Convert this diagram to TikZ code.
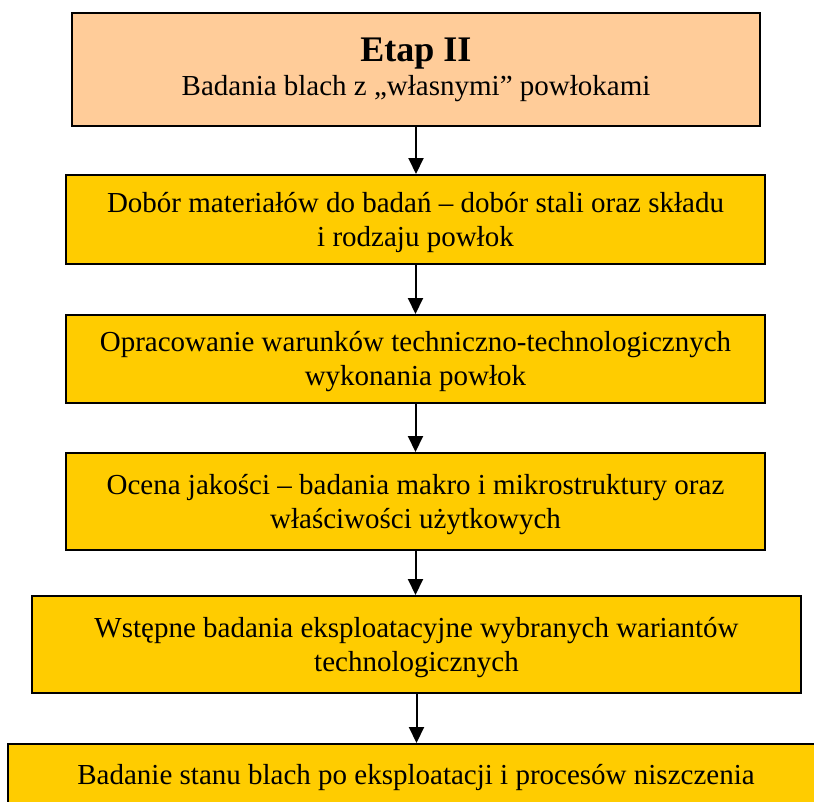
\documentclass[tikz,border=0pt]{standalone}
\usepackage{fontspec}
\setmainfont{Liberation Serif}
\usetikzlibrary{arrows.meta}
\definecolor{peach}{HTML}{FFCC99}
\definecolor{gold}{HTML}{FFCC00}
\newcommand{\downstrut}{\rule{0pt}{26pt}}
\tikzset{
  stagebox/.style={draw=black, line width=2pt, rectangle, align=center, inner sep=0pt,
    font=\fontsize{29}{34}\selectfont},
  flowarr/.style={-{Triangle[length=16pt,width=15pt]}, line width=2pt},
}
\begin{document}
\begin{tikzpicture}[x=1pt,y=-1pt]
\useasboundingbox (0,0) rectangle (814,801);
\clip (0,0) rectangle (814,801);
\fill[white] (0,0) rectangle (814,801);
\node[stagebox, fill=peach, minimum width=688pt, minimum height=113pt] (b1) at (416,69.5)
  {{\fontsize{36}{40}\selectfont\bfseries Etap II}\\Badania blach z „własnymi” powłokami};
\node[stagebox, fill=gold, minimum width=699pt, minimum height=89pt] (b2) at (415.5,219.5)
  {\downstrut Dobór materiałów do badań – dobór stali oraz składu\\i rodzaju powłok};
\node[stagebox, fill=gold, minimum width=699pt, minimum height=88pt] (b3) at (415.5,359)
  {\downstrut Opracowanie warunków techniczno-technologicznych\\wykonania powłok};
\node[stagebox, fill=gold, minimum width=699pt, minimum height=97pt] (b4) at (415.5,501.5)
  {\downstrut Ocena jakości – badania makro i mikrostruktury oraz\\właściwości użytkowych};
\node[stagebox, fill=gold, minimum width=769pt, minimum height=97pt] (b5) at (416.5,644.5)
  {\downstrut Wstępne badania eksploatacyjne wybranych wariantów\\technologicznych};
\node[stagebox, fill=gold, minimum width=830pt, minimum height=100pt] (b6) at (423,794) {};
\node[font=\fontsize{29}{34}\selectfont, anchor=base, inner sep=0pt] (t6) at (416,784)
  {Badanie stanu blach po eksploatacji i procesów niszczenia};
\draw[flowarr] (b1.south) -- (b1.south |- b2.north);
\draw[flowarr] (b2.south) -- (b2.south |- b3.north);
\draw[flowarr] (b3.south) -- (b3.south |- b4.north);
\draw[flowarr] (b4.south) -- (b4.south |- b5.north);
\draw[flowarr] (b5.south) -- (b5.south |- b6.north);
\end{tikzpicture}
\end{document}
